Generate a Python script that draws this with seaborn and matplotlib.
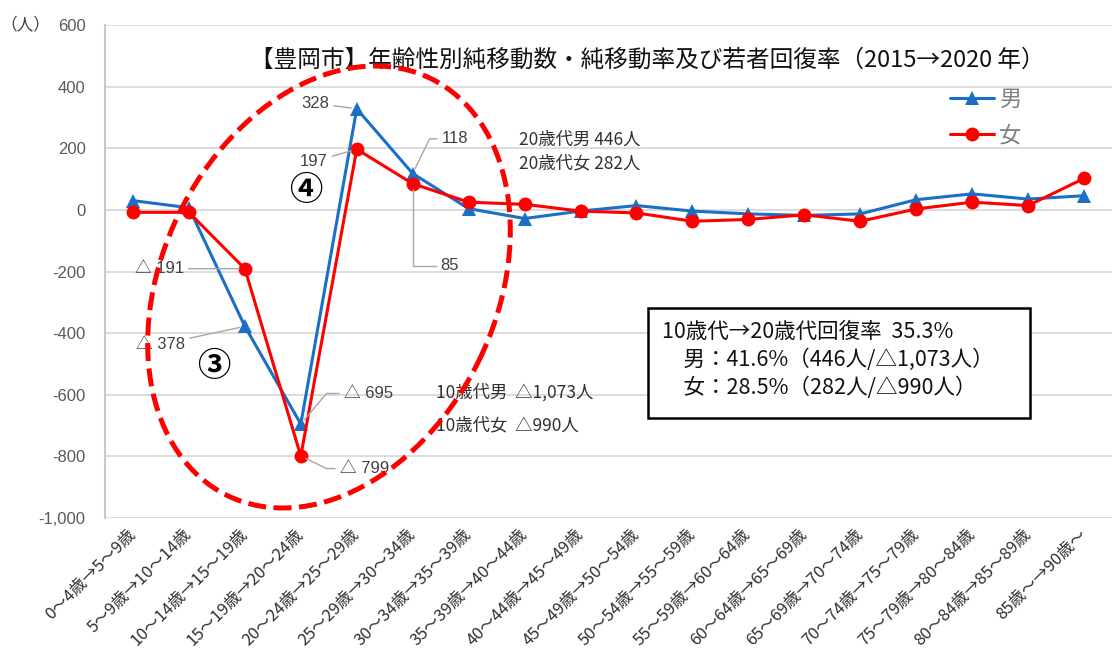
import numpy as np
import pandas as pd
import matplotlib
matplotlib.use("Agg")
import matplotlib.pyplot as plt
from matplotlib.patches import Ellipse, Rectangle
from matplotlib.transforms import IdentityTransform
import seaborn as sns

# Data
categories = [
    "0～4歳→5～9歳", "5～9歳→10～14歳", "10～14歳→15～19歳", "15～19歳→20～24歳",
    "20～24歳→25～29歳", "25～29歳→30～34歳", "30～34歳→35～39歳", "35～39歳→40～44歳",
    "40～44歳→45～49歳", "45～49歳→50～54歳", "50～54歳→55～59歳", "55～59歳→60～64歳",
    "60～64歳→65～69歳", "65～69歳→70～74歳", "70～74歳→75～79歳", "75～79歳→80～84歳",
    "80～84歳→85～89歳", "85歳～→90歳～",
]
male = [30, 7, -378, -695, 328, 118, 4, -28, -4, 14, -4, -13, -18, -13, 33, 52, 35, 46]
female = [-8, -8, -191, -799, 197, 85, 25, 18, -4, -10, -37, -31, -16, -37, 3, 25, 14, 102]
yticks = [600, 400, 200, 0, -200, -400, -600, -800, -1000]
ytick_labels = ["600", "400", "200", "0", "-200", "-400", "-600", "-800", "-1,000"]

title = "【豊岡市】年齢性別純移動数・純移動率及び若者回復率（2015→2020 年）"
box_lines = [
    "10歳代→20歳代回復率  35.3%",
    "　男：41.6%（446人/△1,073人）",
    "　女：28.5%（282人/△990人）",
]

sns.set_theme(style="white")
plt.rcParams["font.family"] = ["Noto Sans CJK JP", "DejaVu Sans"]
NUM_FONT = ["Liberation Sans", "Noto Sans CJK JP", "DejaVu Sans"]

df = pd.DataFrame({
    "pos": list(range(len(categories))) * 2,
    "value": male + female,
    "sex": ["男"] * len(male) + ["女"] * len(female),
})

fig = plt.figure(figsize=(11.12, 6.53), dpi=100)
ax = fig.add_axes([105 / 1112, 1 - 518 / 653, 1 - 105 / 1112, (518 - 25) / 653])

sns.lineplot(data=df, x="pos", y="value", hue="sex", style="sex",
             hue_order=["男", "女"], style_order=["男", "女"],
             palette={"男": "#1B6FC4", "女": "#FF0000"},
             markers={"男": "^", "女": "o"}, dashes=False,
             markersize=10, markeredgewidth=0, linewidth=2.2, ax=ax)

ax.set_xlim(-0.5, len(categories) - 0.5)
ax.set_ylim(-1000, 600)
ax.set_yticks(yticks)
ax.set_yticklabels(ytick_labels, family=NUM_FONT, fontsize=12, color="#595959")
ax.set_xticks(range(len(categories)))
ax.set_xticklabels(categories, rotation=45, ha="right", va="center",
                   rotation_mode="anchor", fontsize=12, color="#303030")
ax.tick_params(axis="y", length=0, pad=14)
ax.tick_params(axis="x", length=0, pad=10)
ax.set_xlabel("")
ax.set_ylabel("")
ax.grid(axis="y", color="#D9D9D9", linewidth=1.3)
ax.set_axisbelow(True)
for side in ["top", "right", "bottom"]:
    ax.spines[side].set_visible(False)
ax.spines["left"].set_color("#C8C8C8")
ax.spines["left"].set_linewidth(1.5)

fig.text(25 / 1112, 1 - 25 / 653, "（人）", ha="center", va="center",
         fontsize=12, color="#404040")

# legend
handles, labels = ax.get_legend_handles_labels()
ax.legend(handles, labels, loc="upper left", bbox_to_anchor=(0.828, 0.895),
          frameon=False, fontsize=16, labelcolor="#7F7F7F", handlelength=2.0,
          handletextpad=0.2, labelspacing=0.6, borderpad=0)

ax.text(0.539, 0.928, title, transform=ax.transAxes, ha="center", va="center",
        fontsize=17, color="#111111")

# data labels with leader lines
lead = dict(arrowstyle="-", color="#A6A6A6", lw=1, shrinkA=1, shrinkB=4)
label_specs = [
    (male, 4, (-20, 4), "right", "arc3"),
    (female, 4, (-21, -9), "right", "arc3"),
    (male, 5, (21, 25), "left", "angle,angleA=0,angleB=64,rad=0"),
    (female, 5, (20, -59), "left", "angle,angleA=0,angleB=90,rad=0"),
    (female, 2, (-44, 0), "right", "arc3"),
    (male, 2, (-43, -13), "right", "arc3"),
    (male, 3, (31, 22), "left", "angle,angleA=0,angleB=50,rad=0"),
    (female, 3, (28, -9), "left", "angle,angleA=0,angleB=-26,rad=0"),
]
for series, i, off, ha, conn in label_specs:
    v = series[i]
    txt = f"{v}" if v >= 0 else f"△ {abs(v)}"
    ax.annotate(txt, xy=(i, v), xytext=off, textcoords="offset points",
                ha=ha, va="center", fontsize=12, color="#404040", family=NUM_FONT,
                arrowprops=dict(lead, connectionstyle=conn))

# group notes
teen_m = male[2] + male[3]
teen_f = female[2] + female[3]
twen_m = male[4] + male[5]
twen_f = female[4] + female[5]
note_kw = dict(fontsize=12.5, color="#303030", va="center", ha="left")
ax.text(5.42, -594, f"10歳代男  △{abs(teen_m):,}人", **note_kw)
ax.text(5.42, -700, f"10歳代女  △{abs(teen_f)}人", **note_kw)
ax.text(6.9, 227, f"20歳代男 {twen_m}人", **note_kw)
ax.text(6.9, 152, f"20歳代女 {twen_f}人", **note_kw)

# circled markers
ax.text(1.45, -507, "③", fontsize=24, fontweight="bold", ha="center", va="center", color="black")
ax.text(3.09, 62, "④", fontsize=24, fontweight="bold", ha="center", va="center", color="black")

# recovery rate box
ax.add_patch(Rectangle((0.539, 0.2028), 0.3793, 0.223, transform=ax.transAxes,
                       fill=True, facecolor="white", edgecolor="black", lw=1.8, zorder=5))
for ypos, line in zip([0.377, 0.3205, 0.2637], box_lines):
    ax.text(0.553, ypos, line, transform=ax.transAxes, ha="left", va="center",
            fontsize=15.5, color="#111111", zorder=6)

# red dashed ellipse
ell = Ellipse((329, 653 - 287), width=464, height=334, angle=64,
              transform=IdentityTransform(), fill=False, edgecolor="#FF0000",
              lw=3.6, linestyle=(0, (3.6, 1.5)), zorder=10)
fig.add_artist(ell)

fig.savefig("out.png", dpi=100)
